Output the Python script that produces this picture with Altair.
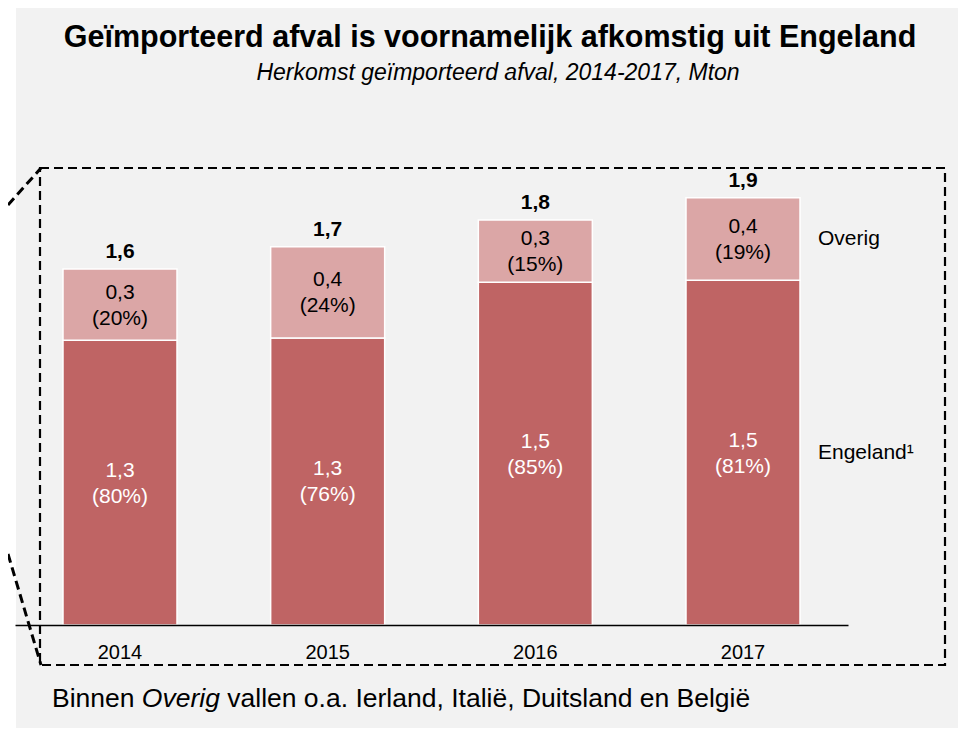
import altair as alt
import pandas as pd

# ---------------- data ----------------
years = ["2014", "2015", "2016", "2017"]
engeland = [1.28, 1.29, 1.54, 1.55]
overig = [0.32, 0.41, 0.28, 0.37]
engeland_lbl = ["1,3", "1,3", "1,5", "1,5"]
engeland_pct = ["(80%)", "(76%)", "(85%)", "(81%)"]
overig_lbl = ["0,3", "0,4", "0,3", "0,4"]
overig_pct = ["(20%)", "(24%)", "(15%)", "(19%)"]
total_lbl = ["1,6", "1,7", "1,8", "1,9"]
series = ["Engeland", "Overig"]
series_lbl = ["Engeland\u00b9", "Overig"]
series_colors = ["#BF6464", "#DBA6A6"]

title_txt = "Geïmporteerd afval is voornamelijk afkomstig uit Engeland"
subtitle_txt = "Herkomst geïmporteerd afval, 2014-2017, Mton"
note_parts = ["Binnen", "Overig", "vallen o.a. Ierland, Italië, Duitsland en België"]

FONT = "Liberation Sans"

# ---------------- tables ----------------
bars = []
for i, y in enumerate(years):
    bars.append({"year": y, "series": series[0], "start": 0.0, "end": engeland[i]})
    bars.append({"year": y, "series": series[1], "start": engeland[i],
                 "end": engeland[i] + overig[i]})
df_bars = pd.DataFrame(bars)

df_eng_txt = pd.DataFrame({
    "year": years,
    "mid": [e / 2 for e in engeland],
    "label": [a + "\n" + b for a, b in zip(engeland_lbl, engeland_pct)],
})
df_ov_txt = pd.DataFrame({
    "year": years,
    "mid": [e + o / 2 for e, o in zip(engeland, overig)],
    "label": [a + "\n" + b for a, b in zip(overig_lbl, overig_pct)],
})
df_tot = pd.DataFrame({
    "year": years,
    "total": [e + o for e, o in zip(engeland, overig)],
    "label": total_lbl,
})
df_leg = pd.DataFrame({
    "label": series_lbl,
    "mid": [engeland[-1] / 2, engeland[-1] + overig[-1] / 2],
})
one = pd.DataFrame({"k": [0]})

# ---------------- encodings ----------------
x_enc = alt.X(
    "year:N",
    sort=years,
    scale=alt.Scale(paddingInner=0.451, paddingOuter=0.2311),
    axis=alt.Axis(title=None, labelAngle=0, ticks=False, domainColor="#000000",
                  domainWidth=1.5, labelFont=FONT, labelFontSize=20,
                  labelColor="#000000", labelPadding=17, grid=False, zindex=2),
)
y_scale = alt.Scale(domain=[0, 2], nice=False, zero=True)

# ---------------- layers ----------------
white_strip = alt.Chart(one).mark_rect(color="#FFFFFF").encode(
    x=alt.value(-8), x2=alt.value(1), y=alt.value(-173), y2=alt.value(549)
)

dash = [9, 5]
box = alt.Chart(one).mark_rect(
    fillOpacity=0, stroke="#000000", strokeWidth=2.2, strokeDash=dash
).encode(x=alt.value(25), x2=alt.value(930), y=alt.value(-12), y2=alt.value(485))

bar_layer = alt.Chart(df_bars).mark_bar(stroke="#FFFFFF", strokeWidth=1.5).encode(
    x=x_enc,
    y=alt.Y("start:Q", scale=y_scale, axis=None),
    y2="end:Q",
    color=alt.Color("series:N", scale=alt.Scale(domain=series, range=series_colors),
                    legend=None),
)

diag_top = alt.Chart(one).mark_rule(
    color="#000000", strokeWidth=3, strokeDash=dash
).encode(x=alt.value(-7), y=alt.value(25), x2=alt.value(26), y2=alt.value(-12))

diag_bot = alt.Chart(one).mark_rule(
    color="#000000", strokeWidth=3, strokeDash=dash
).encode(x=alt.value(-7), y=alt.value(374), x2=alt.value(26), y2=alt.value(485))

eng_txt = alt.Chart(df_eng_txt).mark_text(
    font=FONT, fontSize=21, color="#FFFFFF", lineBreak="\n", lineHeight=26,
    baseline="middle", align="center", dy=-12
).encode(x=x_enc, y=alt.Y("mid:Q", scale=y_scale, axis=None), text="label:N")

ov_txt = alt.Chart(df_ov_txt).mark_text(
    font=FONT, fontSize=21, color="#000000", lineBreak="\n", lineHeight=26,
    baseline="middle", align="center", dy=-12
).encode(x=x_enc, y=alt.Y("mid:Q", scale=y_scale, axis=None), text="label:N")

tot_txt = alt.Chart(df_tot).mark_text(
    font=FONT, fontSize=21, fontWeight="bold", color="#000000",
    baseline="alphabetic", align="center", dy=-11
).encode(x=x_enc, y=alt.Y("total:Q", scale=y_scale, axis=None), text="label:N")

leg_txt = alt.Chart(df_leg).mark_text(
    font=FONT, fontSize=21, color="#000000", baseline="middle", align="left"
).encode(x=alt.value(803), y=alt.Y("mid:Q", scale=y_scale, axis=None), text="label:N")

title_layer = alt.Chart(one).mark_text(
    font=FONT, fontSize=30.5, fontWeight="bold", color="#000000",
    baseline="alphabetic", align="center", text=title_txt
).encode(x=alt.value(475), y=alt.value(-133))

subtitle_layer = alt.Chart(one).mark_text(
    font=FONT, fontSize=23, fontStyle="italic", color="#000000",
    baseline="alphabetic", align="center", text=subtitle_txt
).encode(x=alt.value(483), y=alt.value(-100))

NS = 26.5
note1 = alt.Chart(one).mark_text(
    font=FONT, fontSize=NS, color="#000000", baseline="alphabetic", align="left",
    text=note_parts[0]
).encode(x=alt.value(37), y=alt.value(527))
note2 = alt.Chart(one).mark_text(
    font=FONT, fontSize=NS, fontStyle="italic", color="#000000",
    baseline="alphabetic", align="left", text=note_parts[1]
).encode(x=alt.value(37 + 3.391 * NS), y=alt.value(527))
note3 = alt.Chart(one).mark_text(
    font=FONT, fontSize=NS, color="#000000", baseline="alphabetic", align="left",
    text=note_parts[2]
).encode(x=alt.value(37 + 3.391 * NS + 3.223 * NS), y=alt.value(527))

chart = alt.layer(
    white_strip, bar_layer, diag_top, diag_bot, box, eng_txt, ov_txt, tot_txt,
    leg_txt, title_layer, subtitle_layer, note1, note2, note3
).properties(
    width=833, height=445,
    padding={"left": 7, "top": 172, "right": 110, "bottom": 103},
    autosize=alt.AutoSizeParams(type="none"),
    background="#F2F2F2",
).configure_view(strokeWidth=0)

chart.save("out.html", embed_options={"renderer": "svg", "actions": False})
